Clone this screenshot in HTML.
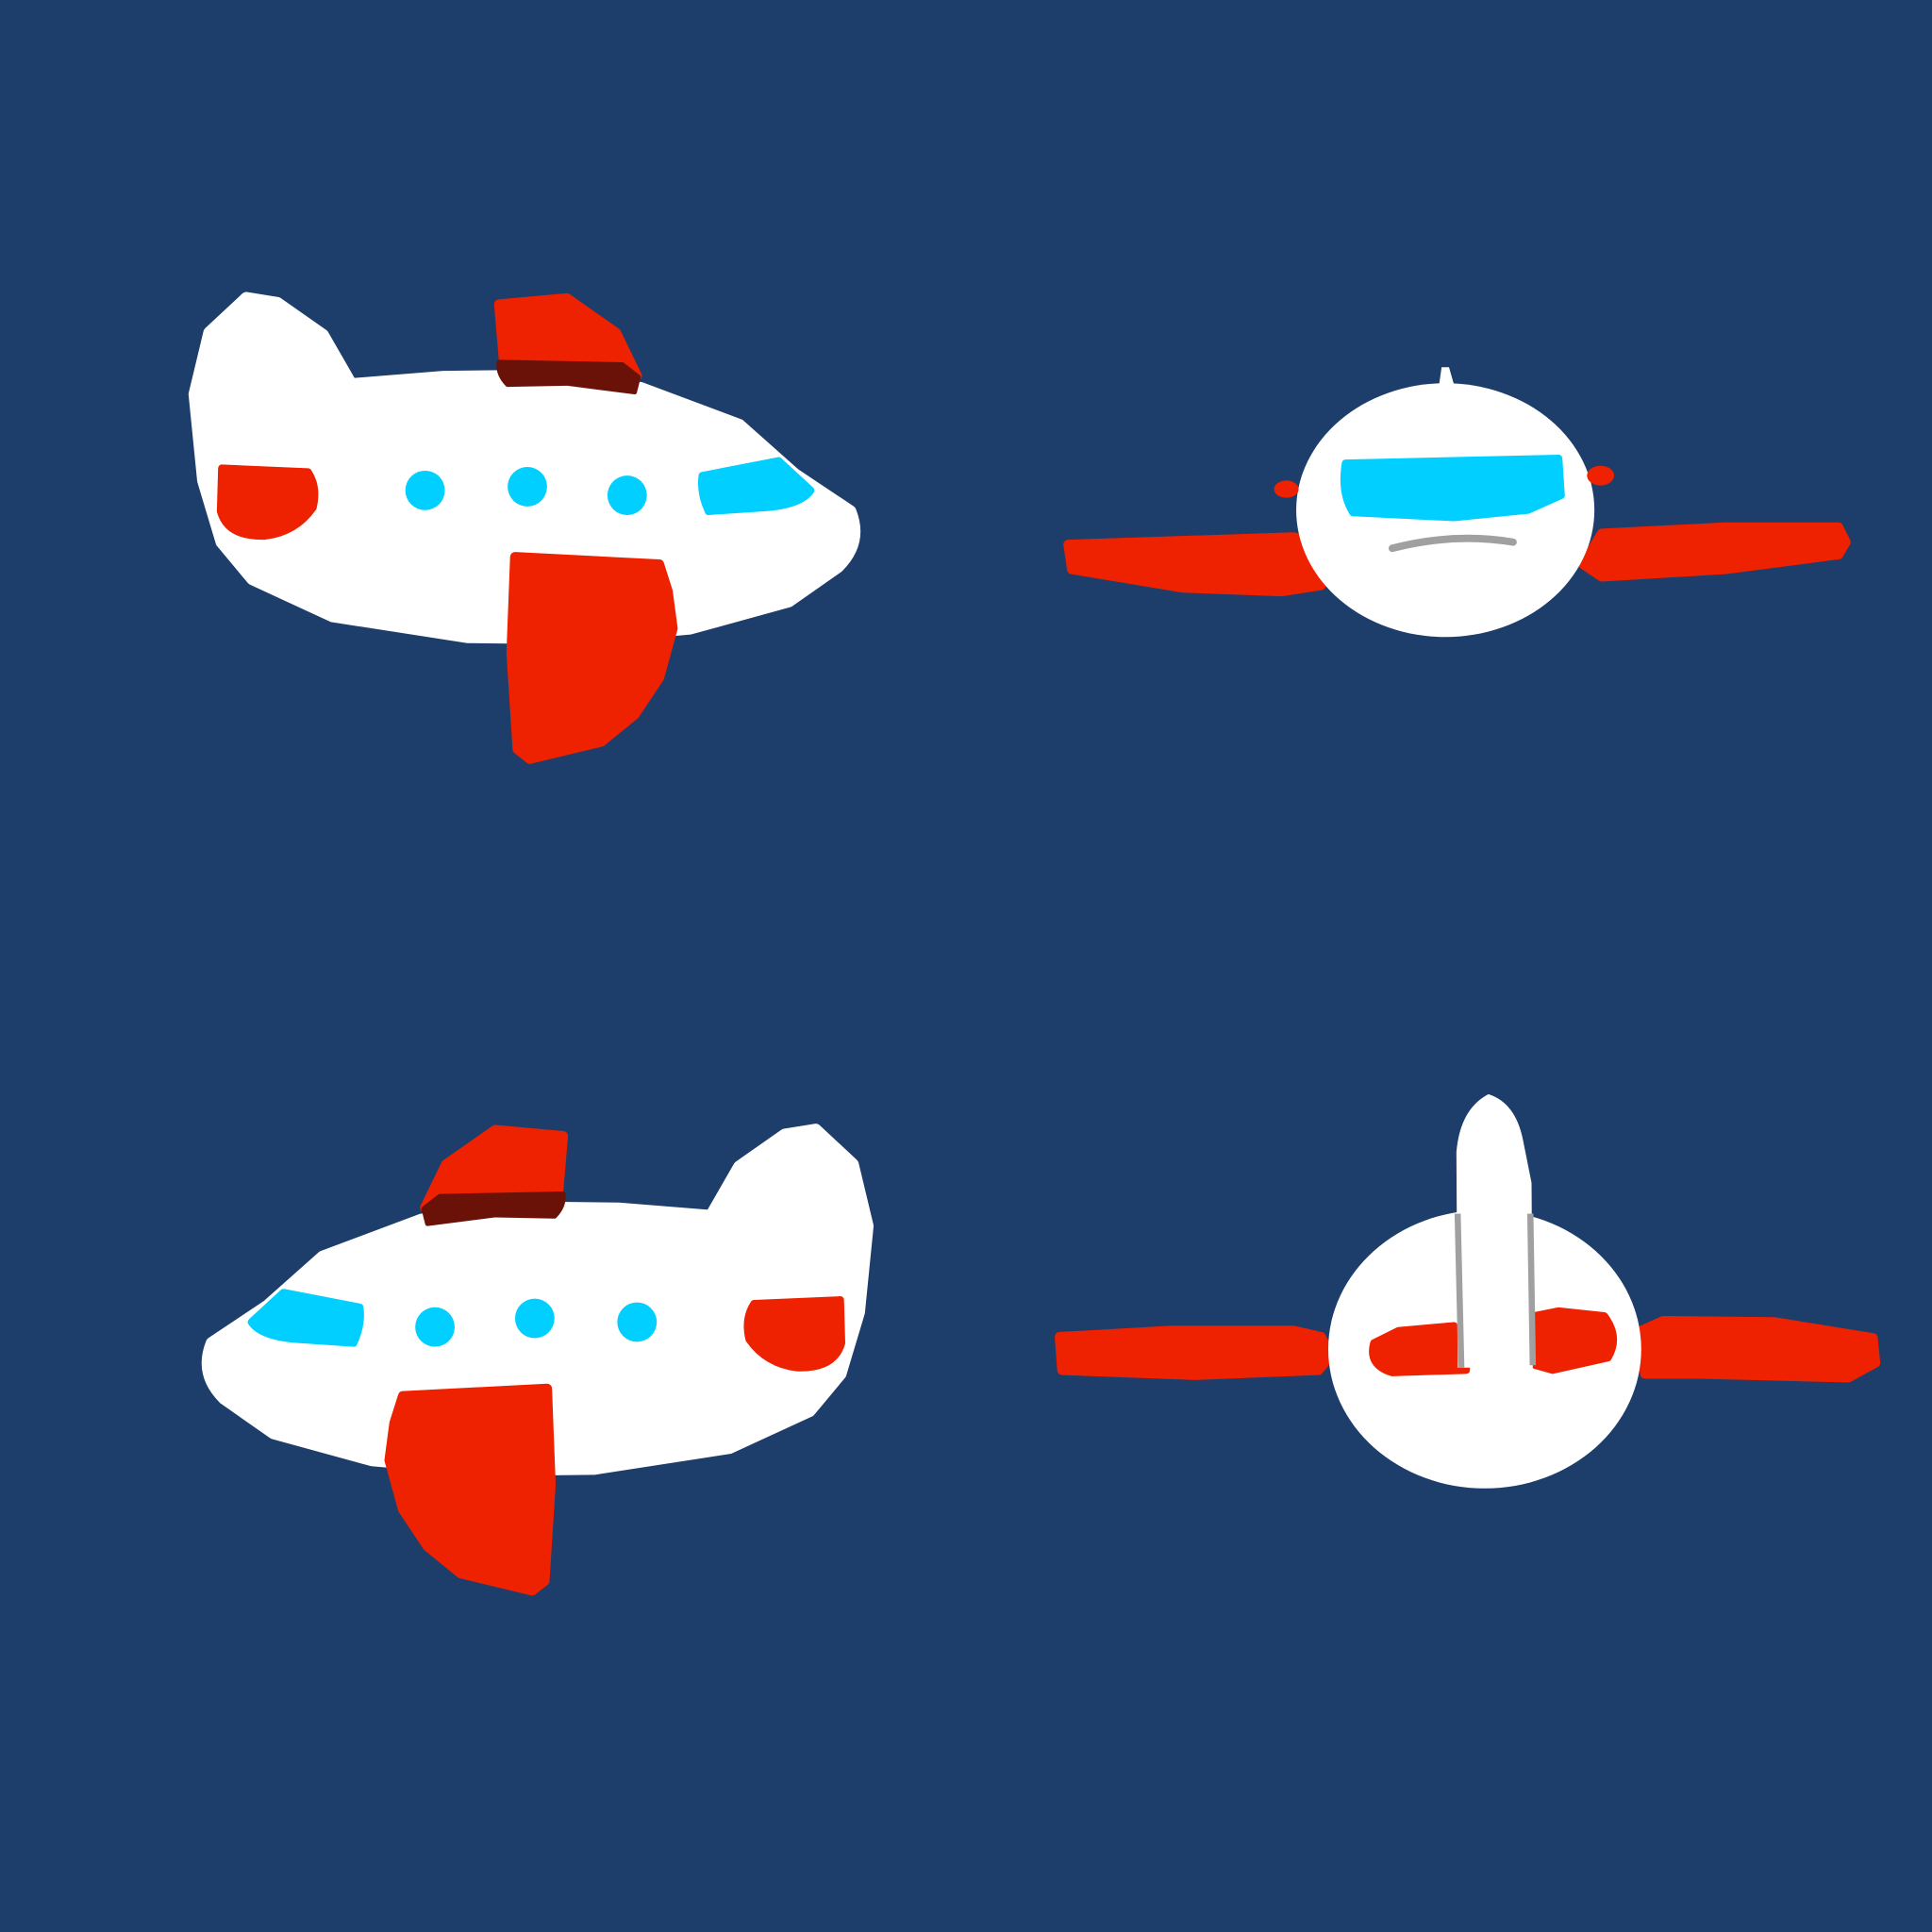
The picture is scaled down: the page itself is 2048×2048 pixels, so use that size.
<!DOCTYPE html>
<html><head><meta charset="utf-8"><style>
html,body{margin:0;padding:0;background:#1d3d6b;}
svg{display:block;}
path,ellipse,circle{stroke-linejoin:round;}
</style></head><body>
<svg width="2048" height="2048" viewBox="0 0 1568 1568" xmlns="http://www.w3.org/2000/svg">
<rect width="1568" height="1568" fill="#1d3d6b"/>
<defs>
<g id="sideplane">
  <path d="M285,312 L360,306 L440,305 L520,315 L600,345 L645,385 L690,415 Q700,440 680,460 L640,488 L560,510 L470,518 L380,517 L270,500 L205,470 L180,440 L165,390 L158,320 L170,270 L200,242 L225,246 L262,272 Z" fill="#fff" stroke="#fff" stroke-width="10"/>
  <path d="M180,380 L250,383 Q258,395 254,412 Q240,432 215,435 Q185,436 179,415 Z" fill="#ee2200" stroke="#ee2200" stroke-width="6"/>
  <circle cx="345" cy="398" r="16" fill="#00cfff"/>
  <circle cx="428" cy="395" r="16" fill="#00cfff"/>
  <circle cx="509" cy="402" r="16" fill="#00cfff"/>
  <path d="M570,386 L632,374 L658,398 Q650,410 620,412 L575,415 Q568,400 570,386 Z" fill="#00cfff" stroke="#00cfff" stroke-width="6"/>
  <path d="M405,247 L460,242 L500,270 L517,305 L410,306 Z" fill="#ee2200" stroke="#ee2200" stroke-width="8"/>
  <path d="M405,294 L505,296 L518,306 L515,318 L460,311 L412,312 Q404,304 405,294 Z" fill="#6b1208" stroke="#6b1208" stroke-width="4"/>
  <path d="M418,452 L535,458 L542,480 L546,510 L535,550 L515,580 L488,602 L430,616 L420,608 L415,530 Z" fill="#ee2200" stroke="#ee2200" stroke-width="8"/>
</g>
</defs>
<use href="#sideplane"/>
<use href="#sideplane" transform="translate(862,675) scale(-1,1)"/>

<g>
  <path d="M867,442 L1050,436 L1062,440 L1072,475 L1040,480 L960,477 L870,462 Z" fill="#ee2200" stroke="#ee2200" stroke-width="8"/>
  <path d="M1498,440 L1492,428 L1400,428 L1300,433 L1285,458 L1300,468 L1400,462 L1492,450 Z" fill="#ee2200" stroke="#ee2200" stroke-width="8"/>
  <path d="M1168,312 L1170,298 L1176,298 L1180,312 Z" fill="#fff"/>
  <ellipse cx="1173" cy="414" rx="121" ry="103" fill="#fff"/>
  <path d="M1092,376 L1265,372 L1267,402 L1240,414 L1180,420 L1098,416 Q1088,400 1092,376 Z" fill="#00cfff" stroke="#00cfff" stroke-width="6"/>
  <path d="M1130,445 Q1180,432 1228,440" stroke="#a0a0a0" stroke-width="6" fill="none" stroke-linecap="round"/>
  <ellipse cx="1044" cy="397" rx="10" ry="7" fill="#ee2200"/>
  <ellipse cx="1299" cy="386" rx="11" ry="8" fill="#ee2200"/>
</g>

<g>
  <path d="M860,1085 L950,1080 L1050,1080 L1072,1085 L1080,1100 L1070,1112 L970,1116 L862,1112 Z" fill="#ee2200" stroke="#ee2200" stroke-width="8"/>
  <path d="M1332,1080 L1350,1072 L1440,1073 L1520,1086 L1522,1106 L1500,1118 L1380,1115 L1335,1115 Z" fill="#ee2200" stroke="#ee2200" stroke-width="8"/>
  <ellipse cx="1205" cy="1095" rx="127" ry="113" fill="#fff"/>
  <path d="M1115,1090 L1135,1080 L1180,1076 L1190,1090 L1190,1112 L1130,1114 Q1110,1108 1115,1090 Z" fill="#ee2200" stroke="#ee2200" stroke-width="6"/>
  <path d="M1245,1068 L1265,1064 L1302,1068 Q1315,1085 1305,1102 L1260,1112 L1246,1108 Z" fill="#ee2200" stroke="#ee2200" stroke-width="6"/>
  <path d="M1183,1110 L1182,935 Q1185,900 1208,888 Q1230,895 1236,925 L1243,960 L1244,1110 Z" fill="#fff"/>
  <path d="M1183,985 L1186,1110" stroke="#a0a0a0" stroke-width="5"/>
  <path d="M1242,985 L1244,1108" stroke="#a0a0a0" stroke-width="5"/>
</g>
</svg>
</body></html>
